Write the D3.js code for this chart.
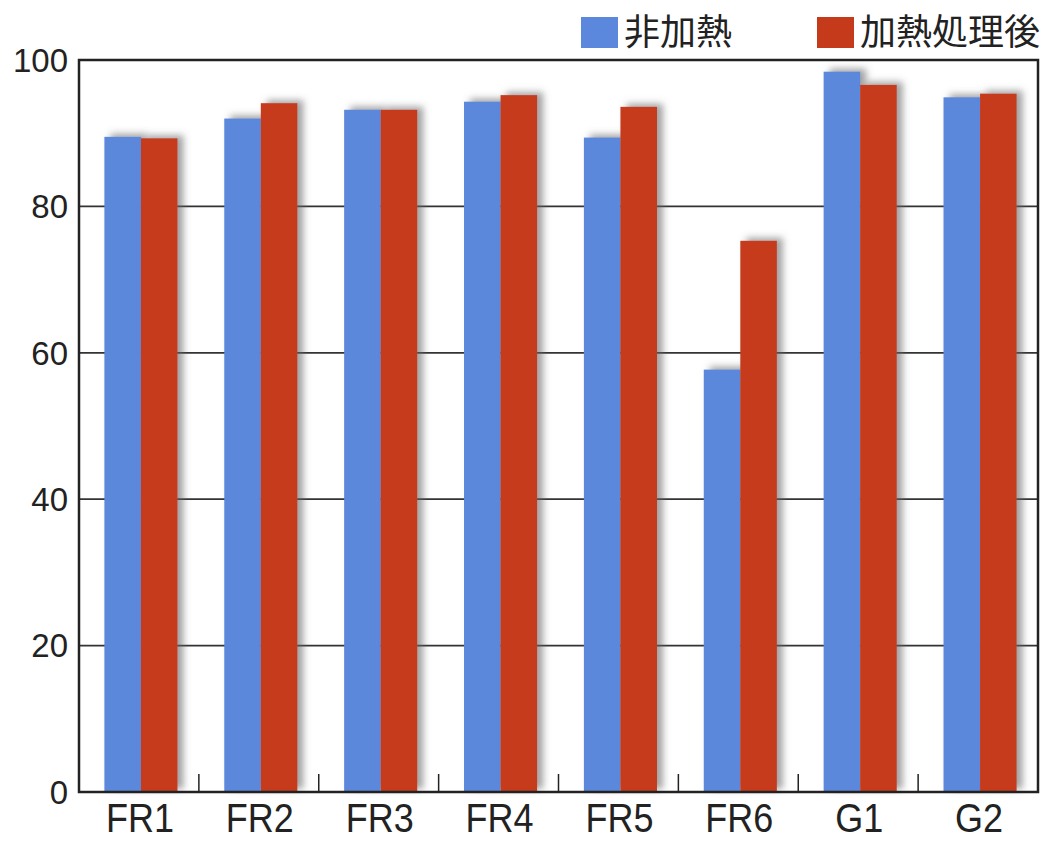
<!DOCTYPE html>
<html><head><meta charset="utf-8">
<script src="https://cdn.jsdelivr.net/npm/d3@7"></script>
<style>body{margin:0;background:#fff;} svg{display:block;}</style>
</head><body>
<script>
const categories = ["FR1","FR2","FR3","FR4","FR5","FR6","G1","G2"];
const seriesNames = ["非加熱","加熱処理後"];
const unheated = [89.5, 92.0, 93.2, 94.3, 89.4, 57.7, 98.4, 94.9];
const heated   = [89.3, 94.1, 93.2, 95.2, 93.6, 75.3, 96.6, 95.4];
const yTicks = [0,20,40,60,80,100];
const colors = ["#5b88dc","#c63a1c"];

const W=1045,H=842;
const m={left:79,right:1038,top:60,bottom:792};
const svg=d3.select("body").append("svg").attr("width",W).attr("height",H);
const defs=svg.append("defs");
const f=defs.append("filter").attr("id","sh").attr("x","-30%").attr("y","-10%").attr("width","180%").attr("height","130%");
f.append("feDropShadow").attr("dx",6).attr("dy",-3).attr("stdDeviation",3.5).attr("flood-color","#666").attr("flood-opacity",0.6);

const x=d3.scaleBand().domain(categories).range([m.left,m.right]).paddingInner(0).paddingOuter(0);
const x1=d3.scaleBand().domain(seriesNames).range([2,x.bandwidth()+2]).paddingInner(0).paddingOuter(0.64);
const y=d3.scaleLinear().domain([0,100]).range([m.bottom,m.top]);

// gridlines
svg.append("g").selectAll("line").data(yTicks.filter(d=>d>0&&d<100)).join("line")
  .attr("x1",m.left).attr("x2",m.right).attr("y1",d=>y(d)).attr("y2",d=>y(d))
  .attr("stroke","#333").attr("stroke-width",1.8);

// bars
const data=categories.map((c,i)=>({c,vals:[unheated[i],heated[i]]}));
const g=svg.append("g");
data.forEach(d=>{
  seriesNames.forEach((s,j)=>{
    g.append("rect").attr("x",x(d.c)+x1(s)).attr("width",x1.bandwidth())
     .attr("y",y(d.vals[j])).attr("height",y(0)-y(d.vals[j]))
     .attr("fill",colors[j]).attr("filter","url(#sh)");
  });
});

// frame
svg.append("rect").attr("x",m.left).attr("y",m.top).attr("width",m.right-m.left).attr("height",m.bottom-m.top)
  .attr("fill","none").attr("stroke","#222").attr("stroke-width",2.5);

// x ticks (between categories)
svg.append("g").selectAll("line").data(categories.slice(1)).join("line")
  .attr("x1",d=>x(d)).attr("x2",d=>x(d)).attr("y1",m.bottom).attr("y2",m.bottom-18)
  .attr("stroke","#222").attr("stroke-width",1.5);

// y labels
svg.append("g").selectAll("text").data(yTicks).join("text")
  .attr("x",68).attr("y",d=>y(d)).attr("dy","0.36em").attr("text-anchor","end")
  .attr("font-family","Liberation Sans, Arial, sans-serif").attr("font-size",33).attr("fill","#222")
  .text(d=>d);

// x labels
svg.append("g").selectAll("text").data(categories).join("text")
  .attr("transform",d=>`translate(${x(d)+x.bandwidth()/2+1},832) scale(1,1.15)`)
  .attr("text-anchor","middle")
  .attr("font-family","Liberation Sans, Arial, sans-serif").attr("font-size",36).attr("fill","#222")
  .text(d=>d);

// legend
const lx=[581,817];
seriesNames.forEach((s,j)=>{
  svg.append("rect").attr("x",lx[j]).attr("y",17).attr("width",37).attr("height",31).attr("fill",colors[j]);
  svg.append("text").attr("x",lx[j]+43).attr("y",45)
    .attr("font-family","Noto Sans CJK JP, sans-serif").attr("font-size",36).attr("fill","#222").text(s);
});
</script>
</body></html>
